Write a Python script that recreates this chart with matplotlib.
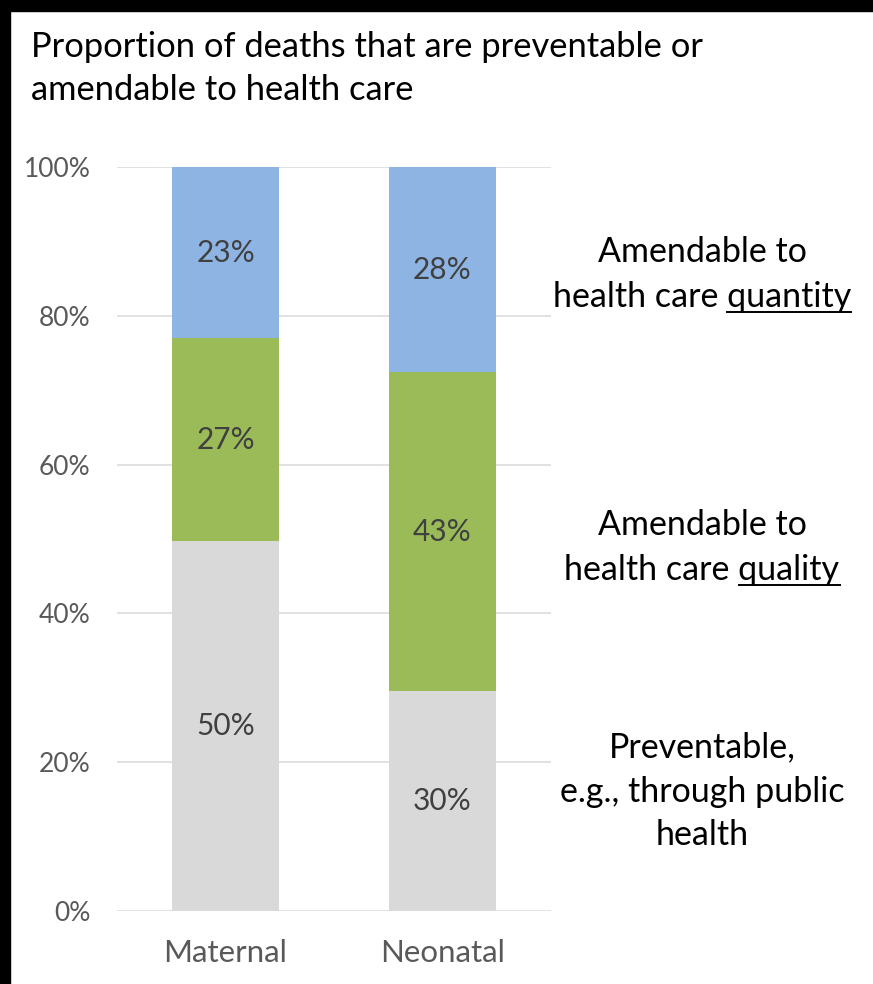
import matplotlib
matplotlib.use("Agg")
import matplotlib.pyplot as plt
from matplotlib.patches import Rectangle
from matplotlib.lines import Line2D
import numpy as np

plt.rcParams["font.family"] = ["Lato", "DejaVu Sans"]

categories = ["Maternal", "Neonatal"]
preventable = [49.7, 29.6]
quality = [27.3, 42.8]
quantity = [23.0, 27.6]
yticks = [0, 20, 40, 60, 80, 100]

title_lines = ["Proportion of deaths that are preventable or",
               "amendable to health care"]

COL_GREY = "#D9D9D9"
COL_GREEN = "#9BBB59"
COL_BLUE = "#8EB4E3"
TXT_DARK = "#404040"
TXT_AXIS = "#595959"

W, H = 873, 984
fig = plt.figure(figsize=(W / 100, H / 100), dpi=100)
fig.patch.set_facecolor("white")

# black frame on the left and top edges
fig.add_artist(Rectangle((0, 0), 10 / W, 1, transform=fig.transFigure,
                         color="black", zorder=0))
fig.add_artist(Rectangle((0, 1 - 11 / H), 1, 11 / H, transform=fig.transFigure,
                         color="black", zorder=0))

ax = fig.add_axes([117 / W, (H - 911) / H, 434 / W, 744 / H])
x = np.arange(len(categories))
width = 0.49

stacks = [preventable, quality, quantity]
colors = [COL_GREY, COL_GREEN, COL_BLUE]
bottom = np.zeros(len(categories))
for vals, col in zip(stacks, colors):
    vals = np.array(vals)
    ax.bar(x, vals, width, bottom=bottom, color=col, zorder=2)
    for xi, b, v in zip(x, bottom, vals):
        ax.text(xi, b + v / 2, f"{v:.0f}%", ha="center", va="center",
                fontsize=21.5, color=TXT_DARK, zorder=3)
    bottom += vals

ax.set_xlim(-0.5, 1.5)
ax.set_ylim(0, 100)
ax.set_yticks(yticks)
ax.set_yticklabels([f"{t}%" for t in yticks])
ax.set_xticks(x)
ax.set_xticklabels(categories)
ax.yaxis.grid(True, color=COL_GREY, linewidth=1.1, zorder=0)
ax.set_axisbelow(True)
for s in ax.spines.values():
    s.set_visible(False)
ax.tick_params(axis="y", length=0, pad=19, labelsize=19, labelcolor=TXT_AXIS)
ax.tick_params(axis="x", length=0, pad=20, labelsize=22.5, labelcolor=TXT_AXIS)

# title
for i, line in enumerate(title_lines):
    fig.text(31 / W, 1 - (57 + 43 * i) / H, line, ha="left", va="baseline",
             fontsize=24.8, color="black")


def right_label(lines, baselines, underline_word=None):
    fig.canvas.draw()
    r = fig.canvas.get_renderer()
    for j, (line, yb) in enumerate(zip(lines, baselines)):
        t = fig.text(702 / W, 1 - yb / H, line, ha="center", va="baseline",
                     fontsize=24.5, color="black")
        if underline_word and j == len(lines) - 1:
            bb = t.get_window_extent(r)
            tmp = fig.text(0, 0, underline_word, fontsize=24.5)
            wb = tmp.get_window_extent(r)
            tmp.remove()
            yl = H - yb - 5
            fig.add_artist(Line2D([bb.x1 - wb.width, bb.x1], [yl, yl],
                                  transform=None, color="black", lw=1.4))


right_label(["Amendable to", "health care quantity"], [262, 307], "quantity")
right_label(["Amendable to", "health care quality"], [535, 580], "quality")
right_label(["Preventable,", "e.g., through public", "health"], [757, 802, 845])

fig.savefig("out.png", dpi=100)
